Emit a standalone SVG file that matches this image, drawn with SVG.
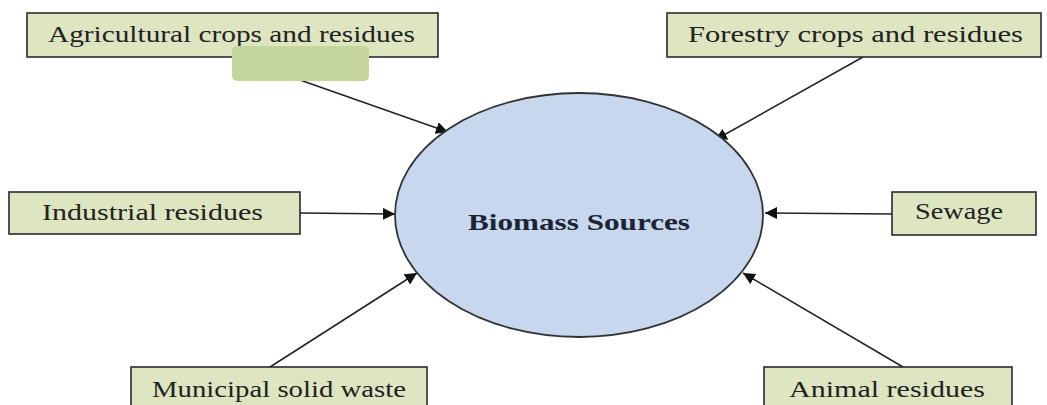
<svg xmlns="http://www.w3.org/2000/svg" width="1047" height="405" viewBox="0 0 1047 405">
<defs>
<style>
.box{fill:#dde5c1;stroke:#2a2a2a;stroke-width:1.6}
.lbl{font-family:"Liberation Serif","DejaVu Serif",serif;font-size:24px;fill:#222}
.conn{stroke:#222;stroke-width:1.5;fill:none;marker-end:url(#ah)}
</style>
<marker id="ah" viewBox="0 0 10 10" refX="10" refY="5" markerWidth="12" markerHeight="12" markerUnits="userSpaceOnUse" orient="auto">
<path d="M0,0 L10,5 L0,10 z" fill="#111"/>
</marker>
</defs>
<rect width="1047" height="405" fill="#ffffff"/>
<g id="connectors">
<line class="conn" x1="300" y1="80" x2="448" y2="132"/>
<line class="conn" x1="863" y1="57" x2="715" y2="140"/>
<line class="conn" x1="300" y1="213" x2="395" y2="214"/>
<line class="conn" x1="892" y1="214" x2="765" y2="213"/>
<line class="conn" x1="270" y1="367" x2="417" y2="273"/>
<line class="conn" x1="903" y1="367" x2="743" y2="273"/>
</g>
<g id="biomass">
<ellipse cx="579" cy="215" rx="184" ry="122" fill="#c6d7ee" stroke="#333" stroke-width="1.8"/>
<text x="579" y="230" text-anchor="middle" font-family="Liberation Serif,DejaVu Serif,serif" font-weight="bold" font-size="23" fill="#1e2333" textLength="222" lengthAdjust="spacingAndGlyphs">Biomass Sources</text>
</g>
<g id="agricultural">
<rect class="box" x="27" y="13" width="411" height="44"/>
<text class="lbl" x="48" y="42" textLength="367" lengthAdjust="spacingAndGlyphs">Agricultural crops and residues</text>
</g>
<g id="overlay">
<rect x="232" y="46" width="137" height="35" rx="5" fill="#c4d69c"/>
</g>
<g id="forestry">
<rect class="box" x="667" y="13" width="374" height="44"/>
<text class="lbl" x="688" y="42" textLength="335" lengthAdjust="spacingAndGlyphs">Forestry crops and residues</text>
</g>
<g id="industrial">
<rect class="box" x="9" y="192" width="291" height="42"/>
<text class="lbl" x="42" y="220" textLength="221" lengthAdjust="spacingAndGlyphs">Industrial residues</text>
</g>
<g id="sewage">
<rect class="box" x="892" y="192" width="144" height="43"/>
<text class="lbl" x="915" y="219" textLength="88" lengthAdjust="spacingAndGlyphs">Sewage</text>
</g>
<g id="municipal">
<rect class="box" x="131" y="367" width="296" height="50"/>
<text class="lbl" x="152" y="397" textLength="254" lengthAdjust="spacingAndGlyphs">Municipal solid waste</text>
</g>
<g id="animal">
<rect class="box" x="764" y="367" width="248" height="50"/>
<text class="lbl" x="789" y="397" textLength="196" lengthAdjust="spacingAndGlyphs">Animal residues</text>
</g>
</svg>
